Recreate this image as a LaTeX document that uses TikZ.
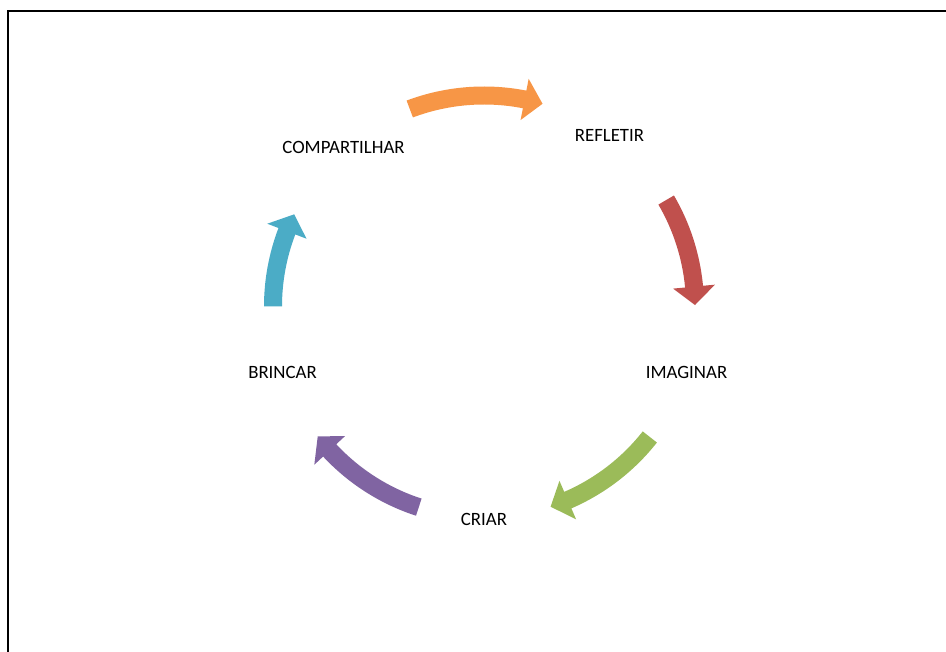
\documentclass[tikz,border=0pt]{standalone}
\usepackage{fontspec}
\setmainfont{Carlito}
\definecolor{accOrange}{HTML}{F79646}
\definecolor{accRed}{HTML}{C0504D}
\definecolor{accGreen}{HTML}{9BBB59}
\definecolor{accPurple}{HTML}{8064A2}
\definecolor{accCyan}{HTML}{4BACC6}
\newcommand\cyclearrow[3]{%
  \pgfmathsetmacro\hb{#3+5}%
  \fill[#1] (#2:220) arc[start angle=#2,end angle=\hb,radius=220pt]
    -- (\hb:232) -- (#3:211) -- (\hb:190) -- (\hb:202)
    arc[start angle=\hb,end angle=#2,radius=202pt] -- cycle;}
\begin{document}
\begin{tikzpicture}[x=1pt,y=1pt,
  lbl/.style={font=\fontsize{18.8}{20}\selectfont, text=black, inner sep=0pt}]
\useasboundingbox (0,0) rectangle (946,652);
\fill[white] (0,0) rectangle (946,652);
\draw[line width=2pt] (8.3,0) -- (8.3,641) -- (946,641);
\node[lbl] (refletir) at (609.5,517) {REFLETIR};
\node[lbl] (imaginar) at (686.5,280) {IMAGINAR};
\node[lbl] (criar) at (484,133) {CRIAR};
\node[lbl] (brincar) at (282.5,280) {BRINCAR};
\node[lbl] (compartilhar) at (343.5,505) {COMPARTILHAR};
\begin{scope}[shift={(484,345.5)}]
  \cyclearrow{accOrange}{110.6}{73.9}
  \cyclearrow{accRed}{30.3}{0.4}
  \cyclearrow{accGreen}{-38.2}{-71.6}
  \cyclearrow{accPurple}{-108}{-142}
  \cyclearrow{accCyan}{180}{154.1}
\end{scope}
\end{tikzpicture}
\end{document}
